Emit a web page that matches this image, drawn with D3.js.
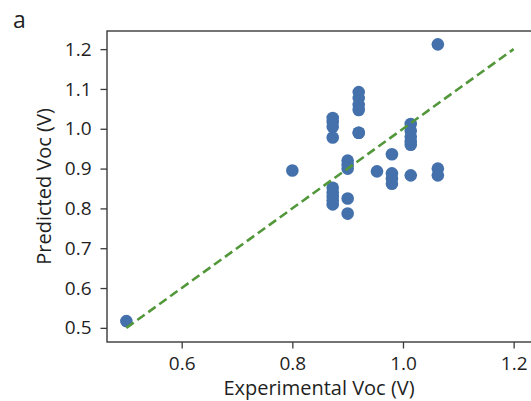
<!DOCTYPE html>
<html>
<head>
<meta charset="utf-8">
<script src="https://cdn.jsdelivr.net/npm/d3@7"></script>
<style>
  html, body { margin: 0; padding: 0; background: #fff; }
  svg { display: block; }
  text { font-family: "Open Sans", "Noto Sans", sans-serif; fill: #1f1f1f; }
</style>
</head>
<body>
<svg id="chart" width="531" height="401"></svg>
<script>
// Data
const experimental = [0.50, 0.80,
  0.873, 0.873, 0.873, 0.873,
  0.873, 0.873, 0.873, 0.873, 0.873,
  0.90, 0.90, 0.90, 0.90, 0.90,
  0.92, 0.92, 0.92, 0.92, 0.92, 0.92,
  0.953,
  0.98, 0.98, 0.98, 0.98,
  1.014, 1.014, 1.014, 1.014, 1.014, 1.014,
  1.063, 1.063, 1.063];
const predicted = [0.517, 0.895,
  1.027, 1.017, 1.005, 0.978,
  0.852, 0.84, 0.83, 0.82, 0.81,
  0.92, 0.91, 0.90, 0.825, 0.787,
  1.092, 1.077, 1.06, 1.047, 0.99, 0.99,
  0.893,
  0.936, 0.888, 0.875, 0.862,
  1.012, 0.995, 0.98, 0.968, 0.96, 0.883,
  1.212, 0.90, 0.883];
const identityLine = [0.5, 1.2];
const xTicks = [0.6, 0.8, 1.0, 1.2];
const yTicks = [0.5, 0.6, 0.7, 0.8, 0.9, 1.0, 1.1, 1.2];
const xLabel = "Experimental Voc (V)";
const yLabel = "Predicted Voc (V)";
const panelLabel = "a";

const svg = d3.select("#chart");
const margin = {left: 107, top: 31, right: 533, bottom: 342};

const x = d3.scaleLinear().domain([0.465, 1.235]).range([margin.left, margin.right]);
const y = d3.scaleLinear().domain([0.4645, 1.2455]).range([margin.bottom, margin.top]);

const fmt = d3.format(".1f");

// points
svg.append("g").selectAll("circle")
  .data(experimental.map((v, i) => [v, predicted[i]]))
  .join("circle")
  .attr("cx", d => x(d[0]))
  .attr("cy", d => y(d[1]))
  .attr("r", 6.3)
  .attr("fill", "#4471ab");

// identity dashed line
svg.append("line")
  .attr("x1", x(identityLine[0])).attr("y1", y(identityLine[0]))
  .attr("x2", x(identityLine[1])).attr("y2", y(identityLine[1]))
  .attr("stroke", "#52973a")
  .attr("stroke-width", 2.6)
  .attr("stroke-dasharray", "9,4.5");

// frame
svg.append("rect")
  .attr("x", margin.left).attr("y", margin.top)
  .attr("width", margin.right - margin.left)
  .attr("height", margin.bottom - margin.top)
  .attr("fill", "none")
  .attr("stroke", "#3a3a3a")
  .attr("stroke-width", 1.4);

// axes
const xAxis = svg.append("g")
  .attr("transform", `translate(0,${margin.bottom})`)
  .call(d3.axisBottom(x).tickValues(xTicks).tickFormat(fmt).tickSize(6.5).tickPadding(8.5));
const yAxis = svg.append("g")
  .attr("transform", `translate(${margin.left},0)`)
  .call(d3.axisLeft(y).tickValues(yTicks).tickFormat(fmt).tickSize(6.5).tickPadding(9));

[xAxis, yAxis].forEach(g => {
  g.select(".domain").remove();
  g.selectAll(".tick line").attr("stroke", "#3a3a3a").attr("stroke-width", 1.3);
  g.selectAll(".tick text").attr("font-size", 19).attr("fill", "#1f1f1f")
    .style("font-family", '"Open Sans", "Noto Sans", sans-serif');
});

// axis labels
svg.append("text")
  .attr("x", 319)
  .attr("y", 395)
  .attr("text-anchor", "middle")
  .attr("font-size", 20)
  .text(xLabel);

svg.append("text")
  .attr("transform", `translate(51,${(margin.top + margin.bottom) / 2}) rotate(-90)`)
  .attr("text-anchor", "middle")
  .attr("font-size", 20)
  .text(yLabel);

svg.append("text")
  .attr("x", 13).attr("y", 28)
  .attr("font-size", 23)
  .attr("fill", "#000")
  .text(panelLabel);
</script>
</body>
</html>
